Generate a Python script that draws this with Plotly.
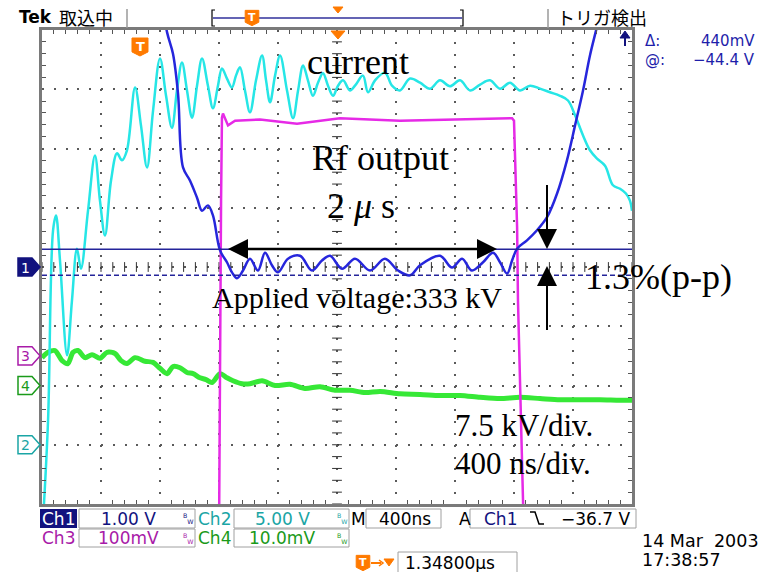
import plotly.graph_objects as go
import numpy as np

# ---------------- data (time: ns from left screen edge, amplitude: divisions) ----------------
ch2_t = [7,41,75,95,122,170,203,237,264,312,359,393,427,468,509,542,576,631,671,712,
         753,800,841,881,915,949,983,1017,1051,1085,1125,1159,1193,1220,1254,1288,1315,1342,1376,1410,
         1451,1492,1519,1546,1580,1614,1661,1702,1736,1770,1803,1837,1871,1905,1939,1973,2007,2041,2088,2122,
         2176,2210,2258,2325,2373,2427,2495,2563,2631,2698,2766,2834,2902,2970,3037,3105,3173,3241,3309,3376,
         3444,3512,3566,3614,3668,3715,3763,3817,3871,3919,3959,3986,4000]
ch2_v = [-4.28,-2.59,0.62,0.87,0.11,-1.49,-0.57,0.31,-0.03,0.95,1.88,1.12,0.53,1.46,1.92,1.80,1.97,3.03,2.39,1.68,
         2.64,3.52,2.89,2.35,2.98,3.45,2.98,2.52,3.06,3.52,3.06,2.68,3.06,3.35,3.18,3.03,3.23,3.37,2.98,2.61,
         3.15,3.57,3.15,2.78,3.23,3.57,2.98,2.51,2.98,3.40,3.15,2.89,3.11,3.27,3.06,2.89,3.06,3.15,2.98,3.06,
         3.23,2.95,3.15,3.28,3.06,2.98,3.18,3.11,3.01,3.15,3.05,3.15,2.98,3.08,3.15,3.01,3.11,2.98,3.06,3.01,
         2.95,2.89,2.81,2.56,2.22,1.97,1.83,1.71,1.38,1.32,1.24,1.12,0.95]

ch1_t = [786,848,888,922,956,1003,1051,1085,1125,1159,1207,1254,1288,1322,1363,1410,1464,1512,1559,1600,
         1668,1749,1831,1898,1953,2034,2122,2224,2325,2414,2495,2563,2698,2780,2848,2915,2990,3058,3105,3153,
         3187,3221,3288,3356,3424,3492,3559,3614,3668,3715,3756,3797]
ch1_v = [4.84,3.96,3.60,2.93,1.68,1.46,1.17,0.95,1.04,0.87,0.28,0.08,-0.09,-0.19,-0.06,0.14,-0.06,0.24,0.03,-0.09,
         0.14,0.19,-0.06,0.11,0.19,-0.03,0.14,-0.06,0.14,-0.06,-0.14,0.03,0.19,-0.01,0.14,-0.06,0.08,0.24,0.08,-0.11,
         0.11,0.31,0.45,0.62,0.84,1.24,1.80,2.39,2.98,3.57,3.99,4.41]

ch3_t = [0,1200,1214,1220,1227,1261,1309,1478,1729,2020,2427,2834,3187,3200,3221,3227,3241,3261,3268,4000]
ch3_v = [-4.62,-4.62,1.12,2.52,2.59,2.39,2.47,2.49,2.42,2.51,2.47,2.49,2.51,2.47,0.67,-0.57,-1.92,-3.99,-4.62,-4.62]

ch4_t = [0,41,88,136,176,210,244,292,339,393,441,495,536,576,631,698,753,800,848,888,
         936,983,1024,1071,1112,1153,1207,1254,1295,1356,1410,1492,1580,1681,1783,1885,1987,2088,2190,2292,
         2427,2563,2698,2834,2970,3105,3241,3376,3512,3648,3783,3919,4000]
ch4_v = [-1.53,-1.44,-1.41,-1.58,-1.63,-1.44,-1.41,-1.53,-1.48,-1.54,-1.44,-1.46,-1.58,-1.63,-1.53,-1.59,-1.61,-1.71,-1.80,-1.68,
         -1.70,-1.78,-1.80,-1.87,-1.90,-1.95,-1.80,-1.87,-1.92,-1.97,-1.97,-1.92,-2.00,-1.98,-2.05,-2.02,-2.08,-2.08,-2.12,-2.10,
         -2.14,-2.15,-2.17,-2.17,-2.20,-2.22,-2.20,-2.22,-2.24,-2.24,-2.24,-2.25,-2.25]

cursor_levels = [0.30, -0.14]          # cursor 1 (solid), cursor 2 (dashed), divisions
channel_names = ["Ch1", "Ch2", "Ch3", "Ch4"]
channel_scales = ["1.00 V", "5.00 V", "100mV", "10.0mV"]
channel_offsets = [0.0, -3.0, -1.5, -2.0]   # ground marker levels, divisions

# ---------------- layout geometry ----------------
W, H = 763, 572
L, R, T, B = 42, 632, 30, 504
XR = [0, 4000]
YR = [-4, 4]

def X(p):   # pixel x -> paper
    return (p - L) / (R - L)

def Y(p):   # pixel y -> paper
    return (B - p) / (B - T)

NAVY = "#12127e"
BLUE_TXT = "#1e1eaa"
TEAL = "#1aa5a5"
MAG = "#a81aa8"
GRN = "#1a9a1a"
ORANGE = "#ff7a00"

fig = go.Figure()

# center graticule ticks
tx = np.arange(XR[0], XR[1] + 1, 80)
fig.add_trace(go.Scatter(x=tx, y=np.zeros_like(tx, dtype=float), mode="markers",
                         marker=dict(symbol="line-ns", size=7, line=dict(width=1, color="#333")),
                         hoverinfo="skip", showlegend=False, cliponaxis=False))
ty = np.arange(YR[0], YR[1] + 0.001, 0.2)
fig.add_trace(go.Scatter(x=np.full_like(ty, 2000.0), y=ty, mode="markers",
                         marker=dict(symbol="line-ew", size=7, line=dict(width=1, color="#333")),
                         hoverinfo="skip", showlegend=False, cliponaxis=False))

# traces
fig.add_trace(go.Scatter(x=ch4_t, y=ch4_v, mode="lines", line=dict(color="#36e836", width=5, shape="spline", smoothing=0.8),
                         hoverinfo="skip", showlegend=False))
fig.add_trace(go.Scatter(x=ch3_t, y=ch3_v, mode="lines", line=dict(color="#e62ae6", width=2.5),
                         hoverinfo="skip", showlegend=False))
fig.add_trace(go.Scatter(x=ch2_t, y=ch2_v, mode="lines", line=dict(color="#26e6e6", width=2.5, shape="spline", smoothing=1.0),
                         hoverinfo="skip", showlegend=False))
fig.add_trace(go.Scatter(x=ch1_t, y=ch1_v, mode="lines", line=dict(color="#2626dc", width=2.5, shape="spline", smoothing=1.0),
                         hoverinfo="skip", showlegend=False))

shapes = []
anns = []

def rect(x0, y0, x1, y1, fill="rgba(0,0,0,0)", line=None, lw=1):
    shapes.append(dict(type="rect", xref="paper", yref="paper", x0=X(x0), x1=X(x1), y0=Y(y1), y1=Y(y0),
                       fillcolor=fill, line=dict(color=line or "rgba(0,0,0,0)", width=lw if line else 0)))

def path(pts, fill=None, line=None, lw=1, closed=True, dash=None):
    d = "M " + " L ".join(f"{X(a):.5f},{Y(b):.5f}" for a, b in pts) + (" Z" if closed else "")
    ln = dict(color=line or "rgba(0,0,0,0)", width=lw if line else 0)
    if dash:
        ln["dash"] = dash
    shapes.append(dict(type="path", path=d, xref="paper", yref="paper",
                       fillcolor=fill if fill else "rgba(0,0,0,0)", line=ln))

def text(s, x, y, size, color="black", family="DejaVu Sans", xa="center", ya="middle", bg=None):
    a = dict(text=s, x=X(x), y=Y(y), xref="paper", yref="paper", showarrow=False,
             font=dict(size=size, color=color, family=family), xanchor=xa, yanchor=ya)
    if bg:
        a["bgcolor"] = bg
    anns.append(a)

# cursor lines
shapes.append(dict(type="line", xref="paper", yref="y", x0=0, x1=1, y0=cursor_levels[0], y1=cursor_levels[0],
                   line=dict(color="#24249a", width=1.5)))
shapes.append(dict(type="line", xref="paper", yref="y", x0=0, x1=1, y0=cursor_levels[1], y1=cursor_levels[1],
                   line=dict(color="#24249a", width=1.5, dash="5px,3px")))

# annotation arrows (black)
yA = 249
path([(246, yA), (479, yA)], line="black", lw=2.5, closed=False)
path([(228, yA), (248, yA - 10), (248, yA + 10)], fill="black")
path([(497, yA), (477, yA - 10), (477, yA + 10)], fill="black")
path([(547, 185), (547, 231)], line="black", lw=2, closed=False)
path([(547, 249), (537, 229), (557, 229)], fill="black")
path([(547, 285), (547, 330)], line="black", lw=2, closed=False)
path([(547, 266), (537, 286), (557, 286)], fill="black")

# channel ground markers on the left
def chmarker(ypx, label, col, filled):
    pts = [(18, ypx - 9), (32, ypx - 9), (40, ypx), (32, ypx + 9), (18, ypx + 9)]
    path(pts, fill=col if filled else "white", line=col, lw=1.5)
    text(label, 25, ypx + 0.5, 14, color="white" if filled else col)

for name, off, col, filled in [("1", channel_offsets[0], NAVY, True), ("2", channel_offsets[1], TEAL, False),
                               ("3", channel_offsets[2], MAG, False), ("4", channel_offsets[3], GRN, False)]:
    ypx = T + (YR[1] - off) / (YR[1] - YR[0]) * (B - T)
    chmarker(ypx, name, col, filled)

# trigger marker
def tmark(cx, cy, s=1.0):
    w, h = 8 * s, 9 * s
    path([(cx - w, cy - h), (cx + w, cy - h), (cx + w, cy + h * 0.55), (cx, cy + h),
          (cx - w, cy + h * 0.55)], fill=ORANGE, line=ORANGE, lw=1)
    text("<b>T</b>", cx, cy - 0.5, int(13 * s), color="white")

tmark(140, 47)
path([(331, 31), (345, 31), (338, 39)], fill=ORANGE, line=ORANGE, lw=1)
path([(625, 46), (625, 36)], line=NAVY, lw=2, closed=False)
path([(625, 31), (620, 38), (630, 38)], fill=NAVY, line=NAVY, lw=1)

# top bar
text("<b>Tek</b>", 35, 17, 17, family="DejaVu Sans")
text("取込中", 86, 17, 18, family="Noto Sans CJK JP")
path([(127, 9), (127, 28)], line="#9a9a9a", lw=1.5, closed=False)
path([(548, 9), (548, 28)], line="#9a9a9a", lw=1.5, closed=False)
path([(213, 18), (462, 18)], line="#6464b4", lw=2, closed=False)
path([(215, 10), (212, 10), (212, 26), (215, 26)], line="black", lw=1.2, closed=False)
path([(460, 10), (463, 10), (463, 26), (460, 26)], line="black", lw=1.2, closed=False)
tmark(252, 18, 0.85)
path([(333, 7), (343, 7), (338, 13)], fill=ORANGE, line=ORANGE, lw=1)
text("トリガ検出", 602, 17, 18, family="Noto Sans CJK JP")

# cursor readout
text("Δ:", 643, 41, 15, color=BLUE_TXT, xa="left")
text("440mV", 757, 41, 15, color=BLUE_TXT, xa="right")
text("@:", 643, 60, 15, color=BLUE_TXT, xa="left")
text("−44.4 V", 757, 60, 15, color=BLUE_TXT, xa="right")

# status area
cols = [NAVY, TEAL, MAG, GRN]
rect(40, 509, 77, 528, fill=NAVY)
text(channel_names[0], 58.5, 518.5, 17, color="white")
text(channel_names[1], 214, 518.5, 17, color=TEAL)
text(channel_names[2], 58.5, 538, 17, color=MAG)
text(channel_names[3], 214, 538, 17, color=GRN)
for (x0, x1, y0, y1, i, cx) in [(79, 195, 509, 528, 0, 128), (234, 349, 509, 528, 1, 282),
                                (79, 195, 529, 547, 2, 128), (234, 349, 529, 547, 3, 282)]:
    rect(x0, y0, x1, y1, fill="white", line="#a0a0a0", lw=1)
    text(channel_scales[i], cx, (y0 + y1) / 2, 17, color=cols[i])
    text("<sup>B</sup><sub>W</sub>", x1 - 7, (y0 + y1) / 2, 9, color=cols[i])
text("M", 358, 518.5, 17)
rect(366, 509, 441, 528, fill="white", line="#a0a0a0", lw=1)
text("400ns", 405, 518.5, 17)
text("A", 465, 518.5, 17)
rect(470, 509, 636, 528, fill="white", line="#a0a0a0", lw=1)
text("Ch1", 501, 518.5, 17, color=NAVY)
path([(530, 512), (535, 512), (539, 524), (544, 524)], line="black", lw=1.5, closed=False)
text("−36.7 V", 633, 518.5, 17, xa="right")
tmark(363, 563, 0.85)
path([(371, 563), (381, 563)], line=ORANGE, lw=2, closed=False)
path([(379, 560), (383, 563), (379, 566)], line=ORANGE, lw=1.5, closed=False)
path([(384, 559), (394, 559), (389, 566)], fill=ORANGE, line=ORANGE, lw=1)
rect(398, 552, 517, 574, fill="white", line="#a0a0a0", lw=1)
text("1.34800µs", 403, 563, 17, xa="left")
text("14 Mar  2003", 640, 541, 17.5, xa="left")
text("17:38:57", 640, 560, 17.5, xa="left")

# serif annotations
SER = "Liberation Serif"
text("current", 358, 62, 36, family=SER)
text("Rf output", 380, 158, 36, family=SER)
text("2 <i>μ</i> s", 325, 206, 36, family=SER, xa="left")
text("Applied voltage:333 kV", 357, 297, 30, family=SER)
text("1.3%(p-p)", 583, 277, 36, family=SER, xa="left")
text("7.5 kV/div.", 453, 425, 31, family=SER, xa="left")
text("400 ns/div.", 453, 463, 31, family=SER, xa="left")

fig.update_layout(
    width=W, height=H, autosize=False,
    margin=dict(l=L, r=W - R, t=T, b=H - B, pad=0),
    paper_bgcolor="white", plot_bgcolor="white",
    shapes=shapes, annotations=anns, showlegend=False,
    xaxis=dict(range=XR, dtick=400, tick0=0, showgrid=True, gridcolor="#5a5a5a", gridwidth=1.5,
               griddash="2px,9.85px", zeroline=False, showticklabels=False, ticks="",
               showline=True, linecolor="#7a7a7a", linewidth=3, mirror="ticks",
               minor=dict(dtick=80, tick0=0, ticks="inside", ticklen=4, tickcolor="#555", showgrid=False),
               fixedrange=True),
    yaxis=dict(range=YR, dtick=1, tick0=0, showgrid=True, gridcolor="#5a5a5a", gridwidth=1.5,
               griddash="2px,9.8px", zeroline=False, showticklabels=False, ticks="",
               showline=True, linecolor="#7a7a7a", linewidth=3, mirror="ticks",
               minor=dict(dtick=0.2, tick0=0, ticks="inside", ticklen=4, tickcolor="#555", showgrid=False),
               fixedrange=True),
)

fig.write_html("out.html")
